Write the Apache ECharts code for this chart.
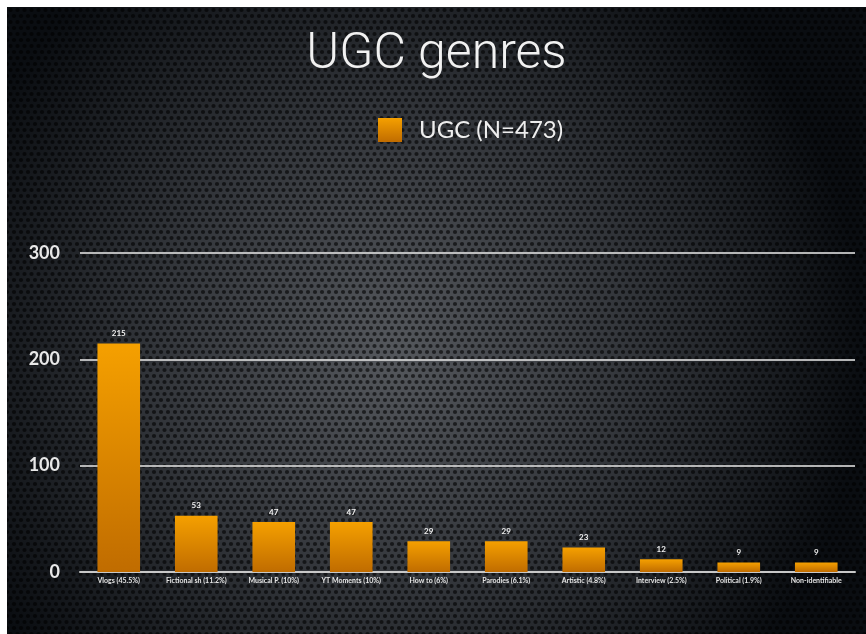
<!DOCTYPE html>
<html>
<head>
<meta charset="utf-8">
<script src="https://cdn.jsdelivr.net/npm/echarts@6/dist/echarts.min.js"></script>
<style>
html,body{margin:0;padding:0;background:#0c0f13;overflow:hidden;width:100%;height:100%;}
#chart{position:absolute;left:7px;top:7px;right:0;bottom:0;}
#bt{position:absolute;left:0;top:0;width:100%;height:7px;background:#fff;}
#bl{position:absolute;left:0;top:0;width:7px;height:100%;background:#fff;}
</style>
</head>
<body>
<div id="chart"></div>
<div id="bt"></div>
<div id="bl"></div>
<script>
const categories = ["Vlogs (45.5%)", "Fictional sh (11.2%)", "Musical P. (10%)", "YT Moments (10%)", "How to (6%)", "Parodies (6.1%)", "Artistic (4.8%)", "Interview (2.5%)", "Political (1.9%)", "Non-identifiable"];
const values = [215, 53, 47, 47, 29, 29, 23, 12, 9, 9];
const seriesName = "UGC (N=473)";
const titleText = "UGC genres";
const yTicks = [0, 100, 200, 300];

// background dot pattern tile
function makePattern() {
  const c = document.createElement('canvas');
  c.width = 14; c.height = 12;
  const ctx = c.getContext('2d');
  ctx.fillStyle = 'rgba(0,0,0,0.6)';
  const pts = [[3.5,3],[10.5,3],[0,9],[7,9],[14,9]];
  pts.forEach(p => { ctx.beginPath(); ctx.arc(p[0], p[1], 2.1, 0, Math.PI*2); ctx.fill(); });
  return c;
}

const chart = echarts.init(document.getElementById('chart'), null, {renderer: 'canvas'});
const option = {
  animation: false,
  backgroundColor: new echarts.graphic.RadialGradient(0.45, 0.55, 0.75, [
    {offset: 0, color: '#55585d'},
    {offset: 0.5, color: '#33363b'},
    {offset: 1, color: '#0a0d11'}
  ]),
  graphic: [
    { type: 'rect', z: -9, silent: true, left: 0, top: 0, shape: {x: 0, y: 0, width: 900, height: 700},
      style: { fill: {image: makePattern(), repeat: 'repeat'} } }
  ],
  title: {
    text: titleText,
    left: 'center',
    top: 18,
    textStyle: { color: '#f2f2f2', fontFamily: 'Roboto', fontWeight: 300, fontSize: 50 }
  },
  legend: {
    data: [seriesName],
    top: 106,
    left: 366,
    itemWidth: 24,
    itemHeight: 24,
    itemGap: 10,
    icon: 'rect',
    textStyle: { color: '#eeeeee', fontFamily: 'Lato', fontSize: 24, padding: [0,0,0,12] }
  },
  grid: { left: 73, right: 11, top: 246, bottom: 62 },
  xAxis: {
    type: 'category',
    data: categories,
    axisLine: { show: true, lineStyle: { color: '#c8c8c8', width: 2 } },
    axisTick: { show: false },
    axisLabel: { color: '#e6e6e6', fontSize: 7, fontFamily: 'Lato', fontWeight: 'bold', interval: 0, margin: 5 }
  },
  yAxis: {
    type: 'value',
    min: 0,
    max: 300,
    interval: 100,
    axisLine: { show: false },
    axisTick: { show: false },
    splitLine: { lineStyle: { color: 'rgba(210,210,210,0.85)', width: 2 } },
    axisLabel: {
      color: '#e8e8e8', fontSize: 18, fontFamily: 'Lato', fontWeight: 'bold', margin: 20,
      formatter: v => yTicks.includes(v) ? String(v) : ''
    }
  },
  series: [{
    name: seriesName,
    type: 'bar',
    data: values,
    barWidth: '55%',
    itemStyle: {
      color: new echarts.graphic.LinearGradient(0, 0, 0, 1, [
        {offset: 0, color: '#f5a000'},
        {offset: 1, color: '#c06c00'}
      ])
    },
    label: { show: true, position: 'top', color: '#f0f0f0', fontSize: 8, fontFamily: 'Lato', fontWeight: 'bold', distance: 6 }
  }]
};
chart.setOption(option);
</script>
</body>
</html>
